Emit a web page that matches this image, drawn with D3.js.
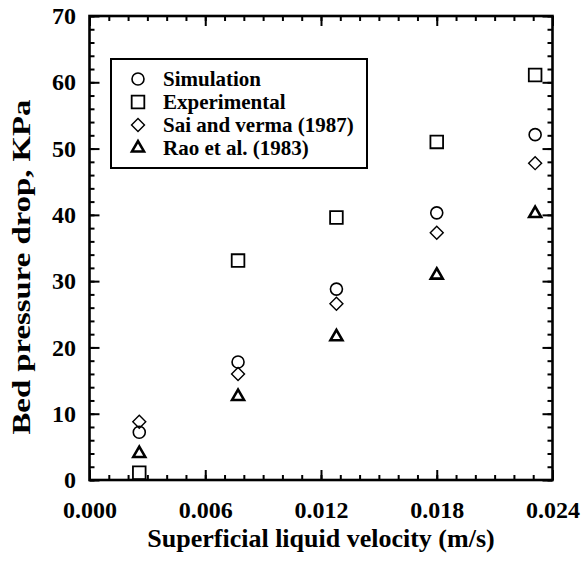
<!DOCTYPE html>
<html>
<head>
<meta charset="utf-8">
<script src="https://cdn.jsdelivr.net/npm/d3@7"></script>
<style>
  body { margin: 0; background: #fff; }
  text { font-family: "Times New Roman", "Liberation Serif", serif; font-weight: bold; fill: #000; }
</style>
</head>
<body>
<script>
var w = 585;
var h = 569;

// liquid velocity (m/s) for each measured column
var velocity = [0.00258, 0.0077, 0.0128, 0.018, 0.0231];
// bed pressure drop, KPa
var simulation = [7.2, 17.8, 28.8, 40.3, 52.1];
var experimental = [1.1, 33.1, 39.6, 51.0, 61.1];
var saiVerma = [8.8, 16.0, 26.6, 37.3, 47.8];
var raoEtAl = [4.0, 12.6, 21.6, 30.9, 40.2];

var seriesNames = ["Simulation", "Experimental", "Sai and verma (1987)", "Rao et al. (1983)"];
var xTicks = [0, 0.006, 0.012, 0.018, 0.024];
var yTicks = [0, 10, 20, 30, 40, 50, 60, 70];

var margin = {left: 89.5, top: 16};
var pw = 463;
var ph = 464;

var x = d3.scaleLinear().domain([0, 0.024]).range([0, pw]);
var y = d3.scaleLinear().domain([0, 70]).range([ph, 0]);

var svg = d3.select("body").append("svg").attr("width", w).attr("height", h);
var g = svg.append("g").attr("transform", "translate(" + margin.left + "," + margin.top + ")");

var xMinor = d3.range(0, 0.0245, 0.001);
var yMinor = d3.range(0, 71, 2);

function styleAxis(sel) {
    sel.select(".domain").remove();
    sel.selectAll(".tick line").attr("stroke", "#000").attr("stroke-width", 2);
}

// minor ticks on all four sides
g.append("g").attr("transform", "translate(0," + ph + ")")
    .call(d3.axisBottom(x).tickValues(xMinor).tickSize(-5).tickFormat("")).call(styleAxis);
g.append("g")
    .call(d3.axisTop(x).tickValues(xMinor).tickSize(-5).tickFormat("")).call(styleAxis);
g.append("g")
    .call(d3.axisLeft(y).tickValues(yMinor).tickSize(-5).tickFormat("")).call(styleAxis);
g.append("g").attr("transform", "translate(" + pw + ",0)")
    .call(d3.axisRight(y).tickValues(yMinor).tickSize(-5).tickFormat("")).call(styleAxis);

// major ticks
var xAxis = g.append("g").attr("transform", "translate(0," + ph + ")")
    .call(d3.axisBottom(x).tickValues(xTicks).tickSize(-10).tickPadding(21).tickFormat(d3.format(".3f")))
    .call(styleAxis);
xAxis.selectAll("text").style("font-size", "24px");

var yAxis = g.append("g")
    .call(d3.axisLeft(y).tickValues(yTicks).tickSize(-10).tickPadding(13.5).tickFormat(d3.format("d")))
    .call(styleAxis);
yAxis.selectAll("text").style("font-size", "24px");

g.append("g")
    .call(d3.axisTop(x).tickValues(xTicks).tickSize(-10).tickFormat("")).call(styleAxis);
g.append("g").attr("transform", "translate(" + pw + ",0)")
    .call(d3.axisRight(y).tickValues(yTicks).tickSize(-10).tickFormat("")).call(styleAxis);

// frame
g.append("rect").attr("width", pw).attr("height", ph)
    .attr("fill", "none").attr("stroke", "#000").attr("stroke-width", 2.6);

// axis titles
svg.append("text")
    .attr("x", margin.left + pw / 2).attr("y", 547)
    .attr("text-anchor", "middle").style("font-size", "26px")
    .text("Superficial liquid velocity (m/s)");

svg.append("text")
    .attr("transform", "translate(30,267) rotate(-90)")
    .attr("text-anchor", "middle").style("font-size", "26px")
    .attr("textLength", 335).attr("lengthAdjust", "spacingAndGlyphs")
    .text("Bed pressure drop, KPa");

var symbols = [
    {gen: d3.symbol().type(d3.symbolCircle).size(113), rot: 0, sw: 1.6},
    {gen: d3.symbol().type(d3.symbolSquare).size(160), rot: 0, sw: 1.8},
    {gen: d3.symbol().type(d3.symbolSquare).size(84), rot: 45, sw: 1.4},
    {gen: d3.symbol().type(d3.symbolTriangle).size(62), rot: 0, sw: 2.6}
];
var allSeries = [simulation, experimental, saiVerma, raoEtAl];

allSeries.forEach(function (vals, i) {
    g.selectAll(".s" + i)
        .data(vals)
        .enter()
        .append("path")
        .attr("d", symbols[i].gen)
        .attr("transform", function (d, j) {
            return "translate(" + x(velocity[j]) + "," + y(d) + ") rotate(" + symbols[i].rot + ")";
        })
        .attr("fill", "none")
        .attr("stroke", "#000")
        .attr("stroke-width", symbols[i].sw);
});

// legend
var legend = svg.append("g");
legend.append("rect")
    .attr("x", 111).attr("y", 59).attr("width", 256).attr("height", 109)
    .attr("fill", "#fff").attr("stroke", "#000").attr("stroke-width", 2);

seriesNames.forEach(function (name, i) {
    var ly = 79 + i * 23;
    legend.append("path")
        .attr("d", symbols[i].gen)
        .attr("transform", "translate(138," + ly + ") rotate(" + symbols[i].rot + ")")
        .attr("fill", "none").attr("stroke", "#000").attr("stroke-width", symbols[i].sw);
    legend.append("text")
        .attr("x", 163).attr("y", ly).attr("dy", "0.35em")
        .style("font-size", "21px")
        .text(name);
});
</script>
</body>
</html>
